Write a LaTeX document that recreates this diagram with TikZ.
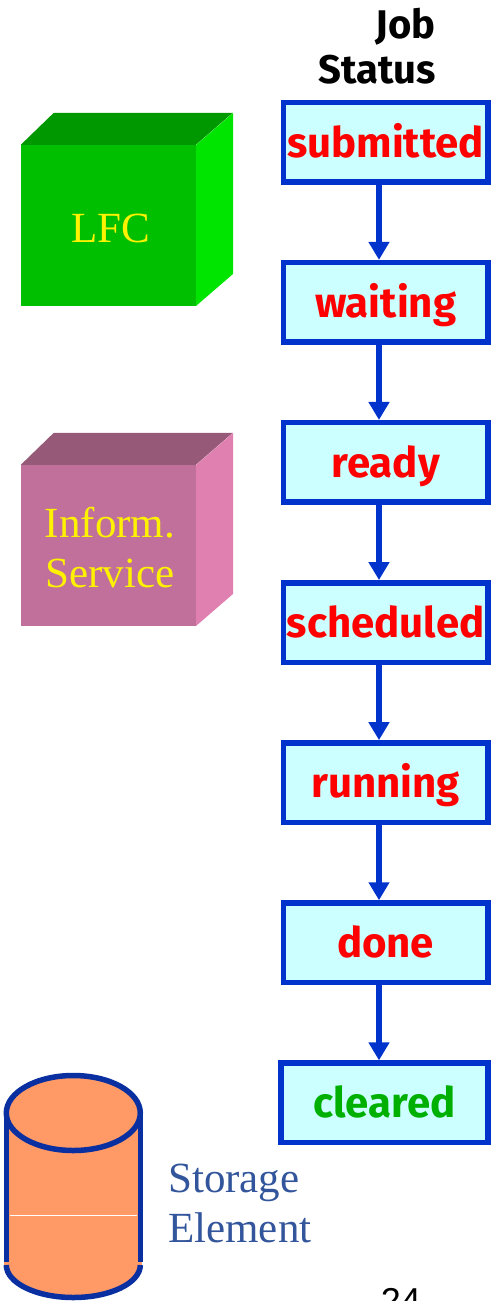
\documentclass[tikz,border=0pt]{standalone}
\usepackage{fontspec}
\setmainfont{Liberation Serif}
\newfontfamily\statusfont{Fira Sans}
\newfontfamily\pagefont{Liberation Sans}
\usetikzlibrary{positioning,arrows.meta}

\definecolor{boxblue}{HTML}{0033CC}
\definecolor{boxfill}{HTML}{CCFFFF}
\definecolor{drumblue}{HTML}{0A2FA0}
\definecolor{drumfill}{HTML}{FF9966}
\definecolor{labelblue}{HTML}{33559B}
\definecolor{clearedgreen}{HTML}{00B000}
\definecolor{lfcfront}{HTML}{00BF00}
\definecolor{lfctop}{HTML}{009800}
\definecolor{lfcside}{HTML}{00E500}
\definecolor{infofront}{HTML}{C0709A}
\definecolor{infotop}{HTML}{965A78}
\definecolor{infoside}{HTML}{E080B0}

\tikzset{status/.style={draw=boxblue,fill=boxfill,line width=5.5pt,minimum width=204.5pt,minimum height=79.5pt,inner sep=0pt,text height=30pt,text depth=0pt,text=red,font=\statusfont\bfseries\fontsize{42}{42}\selectfont}}
\tikzset{front/.style={minimum width=175pt,minimum height=161pt,inner sep=0pt}}
\tikzset{cubetext/.style={text=yellow,align=center,inner sep=0pt,font=\fontsize{43}{50}\selectfont}}
\tikzset{flow/.style={draw=boxblue,line width=6pt,-{Triangle[width=20pt,length=18pt]}}}

\begin{document}
\begin{tikzpicture}[x=1pt,y=1pt,node distance=75.1pt]
  \useasboundingbox (0,0) rectangle (497,-1301);

  \node[font=\statusfont\bfseries\fontsize{40}{45}\selectfont,align=right,anchor=base east,inner sep=0pt] (title) at (436,-83) {Job\hspace{4pt}\\Status};

  \node[status] (submitted) at (385.6,-142.25) {submitted};
  \node[status] (waiting) [below=of submitted] {waiting};
  \node[status] (ready) [below=of waiting] {ready};
  \node[status] (scheduled) [below=of ready] {scheduled};
  \node[status] (running) [below=of scheduled] {running};
  \node[status] (done) [below=of running] {done};
  \node[status,text=clearedgreen,minimum width=206.9pt] (cleared) [below=of done,xshift=-1.1pt] {cleared};

  \draw[flow] ([xshift=-6.6pt]submitted.south) -- ([xshift=-6.6pt]waiting.north);
  \draw[flow] ([xshift=-6.6pt]waiting.south) -- ([xshift=-6.6pt]ready.north);
  \draw[flow] ([xshift=-6.6pt]ready.south) -- ([xshift=-6.6pt]scheduled.north);
  \draw[flow] ([xshift=-6.6pt]scheduled.south) -- ([xshift=-6.6pt]running.north);
  \draw[flow] ([xshift=-6.6pt]running.south) -- ([xshift=-6.6pt]done.north);
  \draw[flow] ([xshift=-6.6pt]done.south) -- ([xshift=-5.5pt]cleared.north);

  % boxes on the left
  \node[front,fill=lfcfront] (lfc) at (108.5,-225.5) {};
  \fill[lfctop] (lfc.north west) -- ++(33,32) -- ++(179,0) -- ++(-37,-32) -- cycle;
  \fill[lfcside] (lfc.north east) -- ++(37,32) -- ++(0,-161) -- ++(-37,-32) -- cycle;
  \node[cubetext] (lfclabel) at (110.5,-228) {LFC};

  \node[front,fill=infofront] (info) at (108.5,-545.5) {};
  \fill[infotop] (info.north west) -- ++(33,32) -- ++(179,0) -- ++(-37,-32) -- cycle;
  \fill[infoside] (info.north east) -- ++(37,32) -- ++(0,-161) -- ++(-37,-32) -- cycle;
  \node[cubetext] (infolabel) at (110,-548) {Inform.\\Service};

  % storage drum
  \coordinate (drumtop) at (73.3,-1113);
  \coordinate (drumbottom) at (73.3,-1265);
  \fill[drumfill] (drumtop) ellipse [x radius=67,y radius=37.5];
  \fill[drumfill] ([xshift=-69pt]drumtop) rectangle ([xshift=69pt]drumbottom);
  \fill[drumfill] (drumbottom) ellipse [x radius=67,y radius=32.5];
  \draw[drumblue,line width=5.5pt] ([xshift=-67pt]drumtop) -- ([xshift=-67pt,yshift=3pt]drumbottom);
  \draw[drumblue,line width=5.5pt] ([xshift=67pt]drumtop) -- ([xshift=67pt,yshift=3pt]drumbottom);
  \draw[drumblue,line width=5.5pt] ([xshift=-67pt]drumbottom) arc [start angle=180,end angle=360,x radius=67,y radius=32.5];
  \draw[drumblue,line width=5.5pt] (drumtop) ellipse [x radius=67,y radius=37.5];
  \draw[white,line width=0.7pt] (10,-1215) -- (137,-1215);
  \node[text=labelblue,align=left,anchor=base west,inner sep=0pt,font=\fontsize{43}{50}\selectfont] (storage) at (168,-1242) {Storage\\Element};

  \node[anchor=base,inner sep=0pt,font=\pagefont\fontsize{36}{36}\selectfont] (pagenum) at (401,-1313) {24};
\end{tikzpicture}
\end{document}
